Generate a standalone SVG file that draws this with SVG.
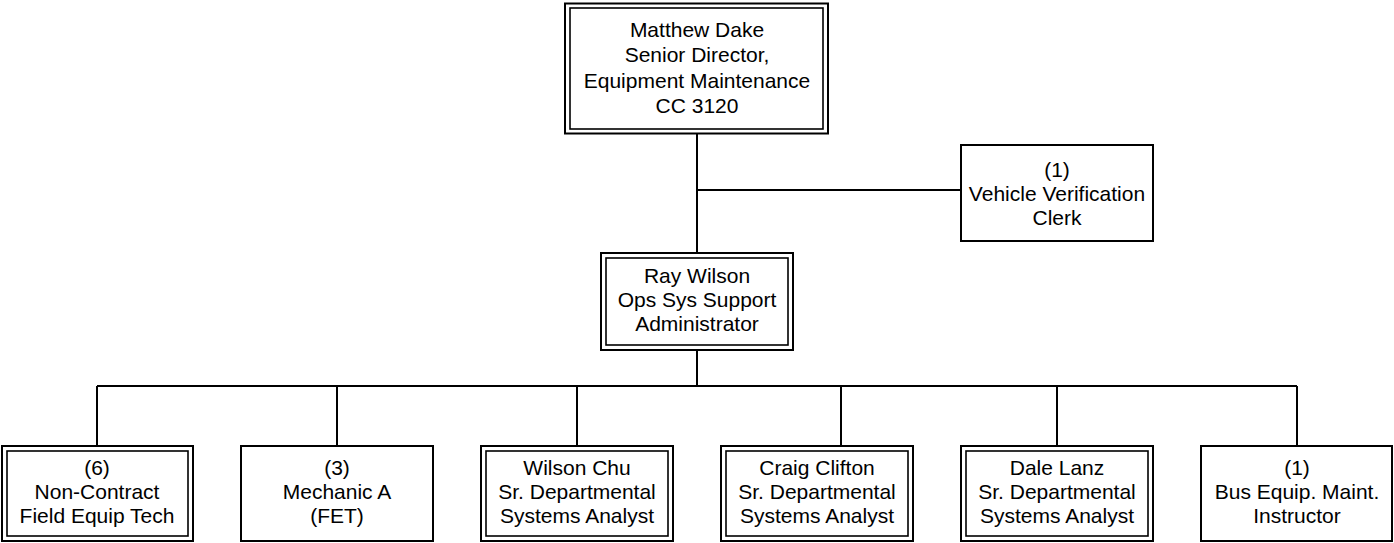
<svg xmlns="http://www.w3.org/2000/svg" width="1394" height="543" viewBox="0 0 1394 543">
<style>
.box{fill:#fff;stroke:#000;stroke-width:2}
.inner{fill:none;stroke:#000;stroke-width:1.6}
.conn{fill:none;stroke:#000;stroke-width:2}
text{font-family:"Liberation Sans",Arial,sans-serif;font-size:21px;fill:#000;text-anchor:middle}
</style>
<rect width="1394" height="543" fill="#fff"/>
<g id="connectors">
<path class="conn" d="M697 133V253M697 190H961M697 350V386M97 386H1297M97 386V446M337 386V446M577 386V446M841 386V446M1057 386V446M1297 386V446"/>
</g>
<g id="matthew-dake">
<rect class="box" x="565" y="3.5" width="263" height="130"/>
<rect class="inner" x="570" y="8" width="253" height="121"/>
<text x="697" y="37">Matthew Dake</text>
<text x="697" y="62">Senior Director,</text>
<text x="697" y="88">Equipment Maintenance</text>
<text x="697" y="113">CC 3120</text>
</g>
<g id="vehicle-clerk">
<rect class="box" x="961" y="145" width="192" height="96"/>
<text x="1057" y="177">(1)</text>
<text x="1057" y="201">Vehicle Verification</text>
<text x="1057" y="225">Clerk</text>
</g>
<g id="ray-wilson">
<rect class="box" x="601" y="253" width="192" height="97"/>
<rect class="inner" x="606" y="258" width="182" height="87"/>
<text x="697" y="283">Ray Wilson</text>
<text x="697" y="307">Ops Sys Support</text>
<text x="697" y="331">Administrator</text>
</g>
<g id="field-equip-tech">
<rect class="box" x="2" y="446" width="191" height="95"/>
<rect class="inner" x="7" y="451" width="181" height="85"/>
<text x="97" y="475">(6)</text>
<text x="97" y="499">Non-Contract</text>
<text x="97" y="523">Field Equip Tech</text>
</g>
<g id="mechanic-a">
<rect class="box" x="241" y="446" width="192" height="95"/>
<text x="337" y="475">(3)</text>
<text x="337" y="499">Mechanic A</text>
<text x="337" y="523">(FET)</text>
</g>
<g id="wilson-chu">
<rect class="box" x="481" y="446" width="192" height="95"/>
<rect class="inner" x="486" y="451" width="182" height="85"/>
<text x="577" y="475">Wilson Chu</text>
<text x="577" y="499">Sr. Departmental</text>
<text x="577" y="523">Systems Analyst</text>
</g>
<g id="craig-clifton">
<rect class="box" x="721" y="446" width="192" height="95"/>
<rect class="inner" x="726" y="451" width="182" height="85"/>
<text x="817" y="475">Craig Clifton</text>
<text x="817" y="499">Sr. Departmental</text>
<text x="817" y="523">Systems Analyst</text>
</g>
<g id="dale-lanz">
<rect class="box" x="961" y="446" width="192" height="95"/>
<rect class="inner" x="966" y="451" width="182" height="85"/>
<text x="1057" y="475">Dale Lanz</text>
<text x="1057" y="499">Sr. Departmental</text>
<text x="1057" y="523">Systems Analyst</text>
</g>
<g id="bus-equip-instructor">
<rect class="box" x="1201" y="446" width="191" height="95"/>
<text x="1297" y="475">(1)</text>
<text x="1297" y="499">Bus Equip. Maint.</text>
<text x="1297" y="523">Instructor</text>
</g>
</svg>
